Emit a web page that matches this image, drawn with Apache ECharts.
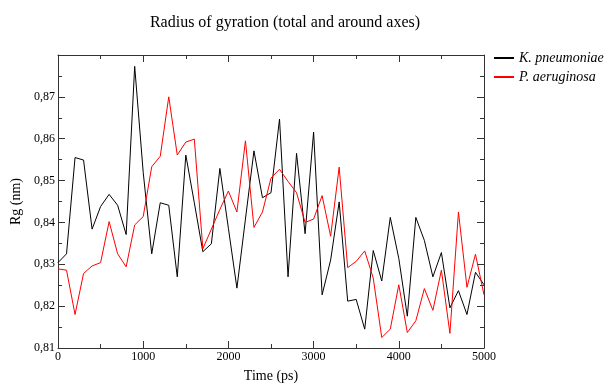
<!DOCTYPE html>
<html>
<head>
<meta charset="utf-8">
<script src="https://cdn.jsdelivr.net/npm/echarts@6/dist/echarts.min.js"></script>
<style>
html,body{margin:0;padding:0;background:#fff;}
#chart{width:615px;height:388px;}
</style>
</head>
<body>
<div id="chart"></div>
<script>
var times = [0,100,200,300,400,500,600,700,800,900,1000,1100,1200,1300,1400,1500,1600,1700,1800,1900,2000,2100,2200,2300,2400,2500,2600,2700,2800,2900,3000,3100,3200,3300,3400,3500,3600,3700,3800,3900,4000,4100,4200,4300,4400,4500,4600,4700,4800,4900,5000];
var kpn = [0.8304,0.8325,0.8555,0.8549,0.8384,0.8438,0.8467,0.8441,0.8371,0.8773,
           0.8520,0.8325,0.8447,0.8441,0.8270,0.8561,0.8447,0.8330,0.8349,0.8529,
           0.8386,0.8243,0.8408,0.8571,0.8459,0.8471,0.8647,0.8270,0.8565,0.8373,
           0.8616,0.8227,0.8310,0.8449,0.8212,0.8216,0.8145,0.8333,0.8260,0.8412,
           0.8314,0.8176,0.8412,0.8357,0.8270,0.8328,0.8196,0.8237,0.8180,0.8281,
           0.8251];
var pae = [0.8289,0.8286,0.8180,0.8278,0.8296,0.8304,0.8402,0.8325,0.8294,0.8394,
           0.8414,0.8533,0.8558,0.8700,0.8561,0.8592,0.8599,0.8337,0.8384,0.8431,
           0.8475,0.8425,0.8595,0.8388,0.8425,0.8506,0.8527,0.8498,0.8471,0.8400,
           0.8408,0.8464,0.8367,0.8532,0.8292,0.8307,0.8332,0.8267,0.8125,0.8145,
           0.8251,0.8137,0.8165,0.8242,0.8190,0.8286,0.8135,0.8425,0.8245,0.8324,
           0.8227];
var seriesNames = ['K. pneumoniae','P. aeruginosa'];
var titleText = 'Radius of gyration (total and around axes)';
var xName = 'Time (ps)';
var yName = 'Rg (nm)';

function pairs(ys){ return times.map(function(t,i){ return [t, ys[i]]; }); }

var serif = 'Liberation Serif';
var axisColor = '#333';
function frameAxis(pos, isX, show){
  var a = {
    type:'value', position:pos,
    axisLine:{show:true, onZero:false, lineStyle:{color:axisColor, width:1}},
    axisTick:{show:true, inside:true, length:7, lineStyle:{color:axisColor}},
    minorTick:{show:true, splitNumber:2, length:4, lineStyle:{color:axisColor}},
    splitLine:{show:false},
    axisLabel:{show:show}
  };
  if (isX){ a.min=0; a.max=5000; a.interval=1000; }
  else { a.min=0.81; a.max=0.88; a.interval=0.01; }
  return a;
}
var xBottom = frameAxis('bottom', true, true);
xBottom.axisLabel = {show:true, margin:3, fontFamily:serif, fontSize:12, color:'#000',
  formatter:function(v){ return String(Math.round(v)); }};
xBottom.name = xName; xBottom.nameLocation='middle'; xBottom.nameGap=21;
xBottom.nameTextStyle = {fontFamily:serif, fontSize:14, color:'#000'};
var xTop = frameAxis('top', true, false);
var yLeft = frameAxis('left', false, true);
yLeft.axisLabel = {show:true, margin:3, fontFamily:serif, fontSize:12, color:'#000',
  formatter:function(v){ if (Math.abs(v-0.88)<1e-6) return ''; return v.toFixed(2).replace('.',','); }};
yLeft.name = yName; yLeft.nameLocation='middle'; yLeft.nameGap=34;
yLeft.nameTextStyle = {fontFamily:serif, fontSize:14, color:'#000'};
var yRight = frameAxis('right', false, false);

var chart = echarts.init(document.getElementById('chart'), null, {renderer:'canvas'});
chart.setOption({
  animation:false,
  backgroundColor:'#fff',
  textStyle:{fontFamily:serif},
  title:{text:titleText, left:280, top:10, textAlign:'center',
    textStyle:{fontFamily:serif, fontSize:16, fontWeight:'normal', color:'#000'}},
  legend:{orient:'vertical', left:494, top:51, itemWidth:20, itemHeight:2, icon:'rect',
    itemGap:5, padding:0,
    textStyle:{fontFamily:serif, fontStyle:'italic', fontSize:14, color:'#000', lineHeight:14},
    data:seriesNames},
  grid:{left:58, right:131, top:55, bottom:36, containLabel:false},
  xAxis:[xBottom, xTop],
  yAxis:[yLeft, yRight],
  series:[
    {name:seriesNames[0], type:'line', xAxisIndex:0, yAxisIndex:0, data:pairs(kpn),
     showSymbol:false, symbol:'none', color:'#000', lineStyle:{color:'#000', width:1}},
    {name:seriesNames[1], type:'line', xAxisIndex:0, yAxisIndex:0, data:pairs(pae),
     showSymbol:false, symbol:'none', color:'#ff0000', lineStyle:{color:'#ff0000', width:1}}
  ]
});
</script>
</body>
</html>
